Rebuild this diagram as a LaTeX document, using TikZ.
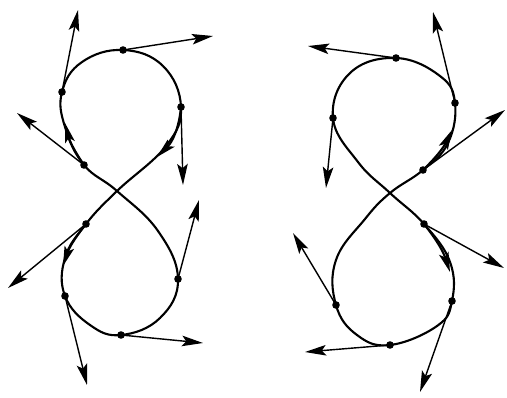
\documentclass[tikz,border=0pt]{standalone}
\usetikzlibrary{arrows.meta}

\begin{document}
\begin{tikzpicture}[
      x=0.025cm, y=-0.025cm,
      curve/.style={line width=1.5pt, line join=round},
      vec/.style={-{Stealth[length=15pt, width=7.5pt, inset=3pt]},
        line width=1pt},
      flow/.style={-{Stealth[length=14pt, width=7pt, inset=3pt]},
        line width=1.5pt}
    ]
      \useasboundingbox (0,0) rectangle (507,397);

      % left figure: crossing, marked points and vector tips
      \coordinate (cl) at (117,191);
      \coordinate (p1) at (123,50);   \coordinate (p1t) at (213,36);
      \coordinate (p2) at (62,92);    \coordinate (p2t) at (78,10);
      \coordinate (p3) at (181,107);  \coordinate (p3t) at (183,185);
      \coordinate (p4) at (84,165);   \coordinate (p4t) at (17,113);
      \coordinate (p5) at (86,224);   \coordinate (p5t) at (8,288);
      \coordinate (p6) at (178,279);  \coordinate (p6t) at (199,200);
      \coordinate (p7) at (65,296);   \coordinate (p7t) at (87,385);
      \coordinate (p8) at (121,335);  \coordinate (p8t) at (203,343);

      % right figure
      \coordinate (cr) at (390,193);
      \coordinate (q1) at (396,58);   \coordinate (q1t) at (308,46);
      \coordinate (q2) at (455,103);  \coordinate (q2t) at (433,12);
      \coordinate (q3) at (333,118);  \coordinate (q3t) at (326,188);
      \coordinate (q4) at (423,170);  \coordinate (q4t) at (505,110);
      \coordinate (q5) at (424,224);  \coordinate (q5t) at (504,268);
      \coordinate (q6) at (452,301);  \coordinate (q6t) at (420,392);
      \coordinate (q7) at (336,305);  \coordinate (q7t) at (293,233);
      \coordinate (q8) at (390,345);  \coordinate (q8t) at (305,352);

      % the two figure eights
      \draw[curve] plot[smooth cycle, tension=0.7] coordinates {
        (cl) (p4) (65,127) (p2) (82,62) (p1) (163,66) (p3) (166,146)
        (cl) (p5) (65,258) (p7) (90,325) (p8) (160,318) (p6) (158,231)};
      \draw[curve] plot[smooth cycle, tension=0.7] coordinates {
        (cr) (358,162) (q3) (350,73) (q1) (440,76) (q2) (448,143) (q4)
        (cr) (365,219) (336,260) (q7) (357,335) (q8) (437,326) (q6)
        (450,262) (q5)};

      % arrows along the curves
      \coordinate (fa) at (65,123);
      \coordinate (fb) at (157,157);
      \coordinate (fc) at (63,266);
      \coordinate (fe) at (452,130);
      \coordinate (ff) at (450,272);
      \draw[flow] (p4) to[bend left=10] (fa);
      \draw[flow] (p3) to[bend left=20] (fb);
      \draw[flow] (p5) to[bend right=10] (fc);
      \draw[flow] (q4) to[bend right=10] (fe);
      \draw[flow] (q5) to[bend left=10] (ff);

      % vectors
      \foreach \p in {p1,p2,p3,p4,p5,p6,p7,p8,q1,q2,q3,q4,q5,q6,q7,q8}
        \draw[vec] (\p) -- (\p t);
      \foreach \p in {p1,p2,p3,p4,p5,p6,p7,p8,q1,q2,q3,q4,q5,q6,q7,q8}
        \fill (\p) circle[radius=2.7pt];
    \end{tikzpicture}
\end{document}
